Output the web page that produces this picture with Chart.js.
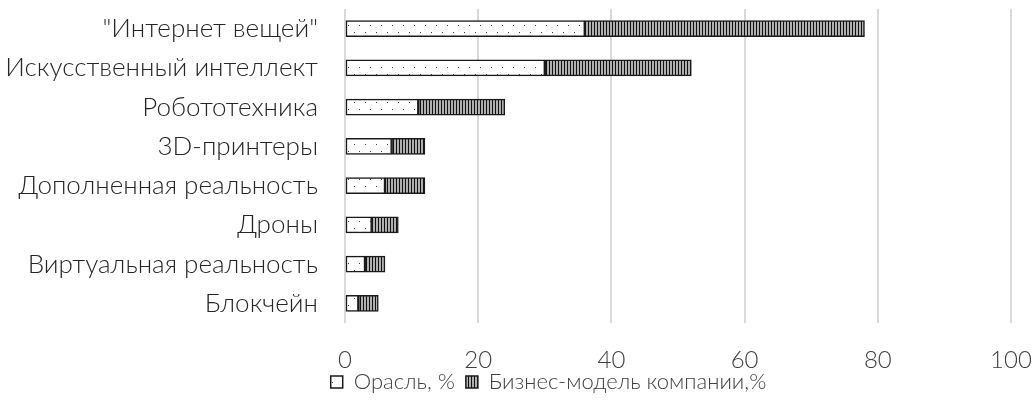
<!DOCTYPE html>
<html>
<head>
<meta charset="utf-8">
<script src="https://cdn.jsdelivr.net/npm/chart.js@4.4.1/dist/chart.umd.min.js"></script>
<style>
  html, body { margin: 0; padding: 0; background: #fff; }
  #wrap { width: 1035px; height: 401px; position: relative; }
</style>
</head>
<body>
<div id="wrap"><canvas id="chart" width="1035" height="401"></canvas></div>
<script>
// Technologies (top to bottom) and their shares, %
const categories = [
  '"Интернет вещей"',
  'Искусственный интеллект',
  'Робототехника',
  '3D-принтеры',
  'Дополненная реальность',
  'Дроны',
  'Виртуальная реальность',
  'Блокчейн'
];
const industryValues = [36, 30, 11, 7, 6, 4, 3, 2];
const businessModelValues = [42, 22, 13, 5, 6, 4, 3, 3];
const xTicks = [0, 20, 40, 60, 80, 100];
const seriesNames = ['Орасль, %', 'Бизнес-модель компании,%'];

const FONT = 'Lato, "Liberation Sans", sans-serif';

// Sparse dotted fill
function dotPattern() {
  const c = document.createElement('canvas');
  c.width = 11; c.height = 14;
  const g = c.getContext('2d');
  g.fillStyle = '#ffffff';
  g.fillRect(0, 0, 11, 14);
  g.fillStyle = '#404040';
  g.fillRect(2, 4, 1, 1);
  g.fillRect(7, 11, 1, 1);
  return g.createPattern(c, 'repeat');
}

// Dense vertical stripes
function stripePattern() {
  const c = document.createElement('canvas');
  c.width = 3; c.height = 4;
  const g = c.getContext('2d');
  g.fillStyle = '#b0b0b0';
  g.fillRect(0, 0, 3, 4);
  g.fillStyle = '#111111';
  g.fillRect(0, 0, 1, 4);
  return g.createPattern(c, 'repeat');
}

// Let the axis labels use the full canvas instead of their own boxes,
// so long category names and the bottom tick row are not clipped.
const labelRoom = {
  id: 'labelRoom',
  afterLayout(chart) {
    chart.scales.y.left = 0;
    chart.scales.x.bottom = chart.height;
  }
};

const ctx = document.getElementById('chart').getContext('2d');
new Chart(ctx, {
  type: 'bar',
  data: {
    labels: categories,
    datasets: [
      {
        label: seriesNames[0],
        data: industryValues,
        backgroundColor: dotPattern(),
        borderColor: '#1a1a1a',
        borderWidth: 1.5,
        borderSkipped: false,
        barThickness: 16
      },
      {
        label: seriesNames[1],
        data: businessModelValues,
        backgroundColor: stripePattern(),
        borderColor: '#1a1a1a',
        borderWidth: 1.5,
        borderSkipped: false,
        barThickness: 16
      }
    ]
  },
  plugins: [labelRoom],
  options: {
    indexAxis: 'y',
    responsive: false,
    animation: false,
    devicePixelRatio: 1,
    layout: { padding: { left: 86, right: 24, top: 9, bottom: 0 } },
    plugins: {
      tooltip: { enabled: false },
      legend: {
        position: 'bottom',
        maxHeight: 41,
        labels: {
          font: { family: FONT, size: 22, weight: 300 },
          color: '#404040',
          boxWidth: 12,
          boxHeight: 12,
          padding: 11
        }
      }
    },
    scales: {
      x: {
        stacked: true,
        min: 0,
        max: 100,
        afterBuildTicks: (s) => { s.ticks = xTicks.map(v => ({ value: v })); },
        afterFit: (s) => { s.height = 37; s.paddingLeft = 0; s.paddingRight = 0; },
        grid: { color: '#d9d9d9', lineWidth: 2, drawTicks: false },
        border: { display: false },
        ticks: {
          font: { family: FONT, size: 24, weight: 300 },
          color: '#404040',
          padding: 23,
          maxRotation: 0
        }
      },
      y: {
        stacked: true,
        afterFit: (s) => { s.width = 259; s.paddingTop = 0; s.paddingBottom = 0; },
        grid: { display: false, drawTicks: false },
        border: { display: false },
        ticks: {
          font: { family: FONT, size: 26, weight: 300 },
          color: '#262626',
          padding: 27,
          autoSkip: false
        }
      }
    }
  }
});
</script>
</body>
</html>
